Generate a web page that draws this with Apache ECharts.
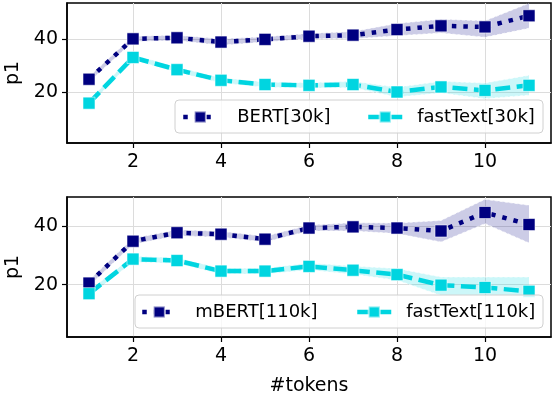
<!DOCTYPE html>
<html><head><meta charset="utf-8">
<script src="https://cdn.jsdelivr.net/npm/echarts@6/dist/echarts.min.js"></script>
<style>html,body{margin:0;padding:0;background:#fff}#c{width:554px;height:394px}</style>
</head><body><div id="c"></div>
<script>
const xs = [1,2,3,4,5,6,7,8,9,10,11];
const xTicks = [2,4,6,8,10];
const yTicks = [20,40];

const bert30   = [24.8, 40.0, 40.4, 38.8, 39.8, 41.0, 41.4, 43.5, 44.9, 44.5, 48.7];
const bert30Lo = [23.8, 39.0, 39.4, 37.6, 38.8, 40.0, 40.0, 41.2, 42.2, 40.6, 44.0];
const bert30Hi = [25.8, 41.0, 41.4, 40.0, 40.8, 42.0, 42.8, 45.8, 47.4, 46.8, 53.4];

const fast30   = [15.8, 33.0, 28.4, 24.4, 22.8, 22.5, 22.8, 20.0, 21.9, 20.6, 22.5];
const fast30Lo = [14.8, 32.0, 27.4, 23.4, 21.8, 21.5, 21.6, 18.1, 19.6, 17.5, 18.8];
const fast30Hi = [16.8, 34.0, 29.4, 25.4, 23.8, 23.5, 24.0, 21.8, 24.0, 23.4, 26.3];

const mbert110   = [20.5, 34.8, 37.7, 37.2, 35.5, 39.3, 39.7, 39.3, 38.3, 44.6, 40.5];
const mbert110Lo = [19.5, 33.8, 36.7, 36.2, 34.5, 38.3, 38.3, 37.4, 34.5, 40.8, 34.2];
const mbert110Hi = [21.5, 35.8, 38.7, 38.2, 36.5, 40.3, 41.1, 41.0, 41.9, 49.1, 47.1];

const fast110   = [16.9, 28.7, 28.2, 24.6, 24.6, 26.2, 24.9, 23.4, 19.8, 19.0, 17.7];
const fast110Lo = [15.9, 27.7, 27.2, 23.6, 23.6, 25.0, 23.5, 21.5, 16.3, 16.3, 16.3];
const fast110Hi = [17.9, 29.7, 29.2, 25.6, 25.6, 27.4, 26.3, 25.5, 22.6, 22.6, 22.6];

const NAVY = '#000080';
const CYAN = '#00D5E0';
const FONT = 'DejaVu Sans';

const pairs = (arr) => xs.map((x, i) => [x, arr[i]]);

function band(idx, lo, hi, rgba) {
  const rows = xs.map((x, i) => [x, lo[i], hi[i]]);
  return {
    type: 'custom', xAxisIndex: idx, yAxisIndex: idx, data: rows, silent: true, z: 1,
    clip: true,
    encode: {x: 0, y: [1, 2]},
    renderItem: function (params, api) {
      if (params.dataIndex !== 0) return null;
      const up = rows.map(r => api.coord([r[0], r[2]]));
      const dn = rows.map(r => api.coord([r[0], r[1]]));
      const poly = up.concat(dn.slice().reverse());
      const edge = {stroke: 'rgba(255,255,255,0.75)', lineWidth: 1, lineDash: [3, 2], fill: null};
      return {type: 'group', children: [
        {type: 'polygon', shape: {points: poly}, style: {fill: rgba}},
        {type: 'polyline', shape: {points: up}, style: edge},
        {type: 'polyline', shape: {points: dn}, style: edge}
      ]};
    }
  };
}
function main(name, idx, arr, color, dash) {
  return {type: 'line', name: name, xAxisIndex: idx, yAxisIndex: idx, data: pairs(arr),
    symbol: 'rect', symbolSize: 12,
    itemStyle: {color: color, borderColor: 'rgba(255,255,255,0.55)', borderWidth: 1},
    lineStyle: {color: color, width: 4.5, type: dash, cap: 'butt'}, z: 3};
}

const grids = [
  {left: 67, top: 3, width: 484, height: 140, show: true, borderColor: '#000', borderWidth: 1.5, backgroundColor: 'transparent', outerBoundsMode: 'none', containLabel: false},
  {left: 67, top: 197, width: 484, height: 140, show: true, borderColor: '#000', borderWidth: 1.5, backgroundColor: 'transparent', outerBoundsMode: 'none', containLabel: false}
];
const xAxes = [0, 1].map(i => ({
  type: 'value', gridIndex: i, min: 0.5, max: 11.5,
  axisLine: {show: true, onZero: false, lineStyle: {color: '#000', width: 1.5}},
  axisTick: {show: true, inside: false, length: 5, customValues: xTicks, lineStyle: {color: '#000', width: 1.2}},
  axisLabel: {customValues: xTicks, color: '#000', fontFamily: FONT, fontSize: 19, margin: 10},
  splitLine: {show: true, lineStyle: {color: '#dcdcdc', width: 1}},
  name: i === 1 ? '#tokens' : '', nameLocation: 'middle', nameGap: 40,
  nameTextStyle: {color: '#000', fontFamily: FONT, fontSize: 19}
}));
const yRanges = [[0.8, 53.5], [2.1, 49.9]];
const yAxes = [0, 1].map(i => ({
  type: 'value', gridIndex: i, min: yRanges[i][0], max: yRanges[i][1],
  axisLine: {show: true, lineStyle: {color: '#000', width: 1.5}},
  axisTick: {show: true, inside: false, length: 5, customValues: yTicks, lineStyle: {color: '#000', width: 1.2}},
  axisLabel: {customValues: yTicks, color: '#000', fontFamily: FONT, fontSize: 19, margin: 9},
  splitLine: {show: true, lineStyle: {color: '#dcdcdc', width: 1}},
  name: 'p1', nameLocation: 'middle', nameGap: 44, nameRotate: 90,
  nameTextStyle: {color: '#000', fontFamily: FONT, fontSize: 19}
}));

function leg(name, left, top, padLeft) {
  return {data: [name], left: left, top: top, orient: 'horizontal', padding: 0,
    itemWidth: 34, itemHeight: 14, z: 60, selectedMode: false,
    lineStyle: {width: 4.5},
    textStyle: {fontFamily: FONT, fontSize: 18, color: '#000', padding: [0, 0, 0, padLeft], lineHeight: 20}};
}

const option = {
  animation: false,
  grid: grids,
  xAxis: xAxes,
  yAxis: yAxes,
  legend: [
    leg('BERT[30k]', 181, 107, 15),
    leg('fastText[30k]', 366, 107, 10),
    leg('mBERT[110k]', 140, 302, 14),
    leg('fastText[110k]', 355, 302, 10)
  ],
  graphic: [
    {type: 'rect', z: 50, shape: {x: 175, y: 100, width: 368, height: 33, r: 4},
     style: {fill: 'rgba(255,255,255,0.8)', stroke: '#d0d0d0', lineWidth: 1}},
    {type: 'rect', z: 50, shape: {x: 135, y: 295, width: 408, height: 33, r: 4},
     style: {fill: 'rgba(255,255,255,0.8)', stroke: '#d0d0d0', lineWidth: 1}}
  ],
  series: [
    band(0, bert30Lo, bert30Hi, 'rgba(0,0,128,0.2)'),
    band(0, fast30Lo, fast30Hi, 'rgba(0,213,224,0.2)'),
    main('BERT[30k]', 0, bert30, NAVY, [4.5, 7]),
    main('fastText[30k]', 0, fast30, CYAN, [15, 6.5]),
    band(1, mbert110Lo, mbert110Hi, 'rgba(0,0,128,0.2)'),
    band(1, fast110Lo, fast110Hi, 'rgba(0,213,224,0.2)'),
    main('mBERT[110k]', 1, mbert110, NAVY, [4.5, 7]),
    main('fastText[110k]', 1, fast110, CYAN, [15, 6.5])
  ]
};
echarts.init(document.getElementById('c'), null, {renderer: 'canvas'}).setOption(option);
</script></body></html>
